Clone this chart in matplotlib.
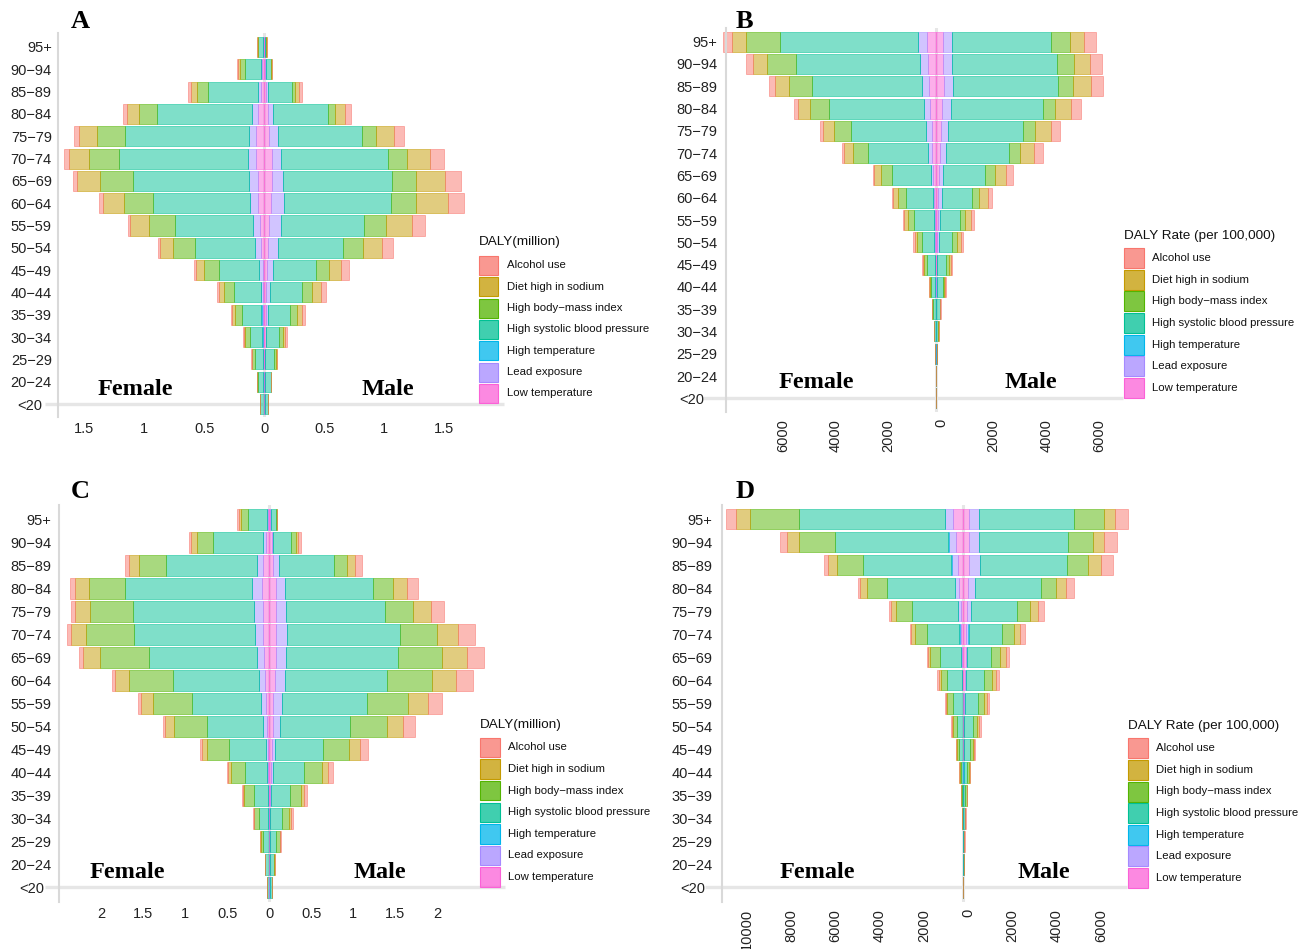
import matplotlib
matplotlib.use("Agg")
import matplotlib.pyplot as plt
import numpy as np
from matplotlib.patches import Rectangle
from matplotlib.colors import to_rgba
from matplotlib.transforms import ScaledTranslation, blended_transform_factory

plt.rcParams['font.family'] = ['Liberation Sans', 'DejaVu Sans']

# ---------------- data ----------------
ages = ["95+", "90\u221294", "85\u221289", "80\u221284", "75\u221279", "70\u221274", "65\u221269",
        "60\u221264", "55\u221259", "50\u221254", "45\u221249", "40\u221244", "35\u221239",
        "30\u221234", "25\u221229", "20\u221224", "<20"]

factors = ["Alcohol use", "Diet high in sodium", "High body\u2212mass index",
           "High systolic blood pressure", "High temperature", "Lead exposure",
           "Low temperature"]
factor_colors = ["#F8766D", "#C49A00", "#53B400", "#00C094", "#00B6EB", "#A58AFF", "#FB61D7"]

# Panel A: DALY (million), order of ages as listed above
a_female_alcohol = [0.005, 0.011, 0.022, 0.031, 0.039, 0.039, 0.036, 0.033, 0.019, 0.014, 0.014, 0.014, 0.011, 0.008, 0.004, 0.002, 0.0005]
a_female_sodium  = [0.004, 0.014, 0.053, 0.103, 0.153, 0.169, 0.186, 0.169, 0.153, 0.108, 0.067, 0.042, 0.022, 0.011, 0.006, 0.002, 0.0005]
a_female_bmi     = [0.005, 0.042, 0.086, 0.153, 0.236, 0.250, 0.275, 0.247, 0.217, 0.186, 0.128, 0.083, 0.058, 0.039, 0.022, 0.004, 0.001]
a_female_sbp     = [0.042, 0.133, 0.419, 0.786, 1.028, 1.069, 0.967, 0.806, 0.647, 0.497, 0.328, 0.222, 0.161, 0.103, 0.067, 0.045, 0.028]
a_female_htemp   = [0.001, 0.001, 0.001, 0.001, 0.001, 0.001, 0.001, 0.001, 0.001, 0.001, 0.001, 0.001, 0.002, 0.002, 0.002, 0.002, 0.002]
a_female_lead    = [0.003, 0.011, 0.025, 0.047, 0.061, 0.069, 0.072, 0.069, 0.058, 0.050, 0.033, 0.019, 0.011, 0.006, 0.003, 0.002, 0.001]
a_female_low     = [0.004, 0.017, 0.028, 0.056, 0.069, 0.069, 0.056, 0.050, 0.039, 0.028, 0.014, 0.011, 0.011, 0.008, 0.006, 0.004, 0.003]

a_male_alcohol = [0.001, 0.004, 0.022, 0.047, 0.086, 0.117, 0.131, 0.133, 0.108, 0.086, 0.061, 0.042, 0.028, 0.019, 0.008, 0.001, 0.0005]
a_male_sodium  = [0.001, 0.005, 0.036, 0.083, 0.147, 0.197, 0.244, 0.264, 0.217, 0.164, 0.103, 0.069, 0.039, 0.014, 0.008, 0.001, 0.0005]
a_male_bmi     = [0.002, 0.006, 0.028, 0.061, 0.119, 0.158, 0.197, 0.211, 0.181, 0.161, 0.111, 0.089, 0.061, 0.036, 0.017, 0.002, 0.001]
a_male_sbp     = [0.010, 0.036, 0.194, 0.453, 0.694, 0.889, 0.908, 0.886, 0.694, 0.544, 0.353, 0.264, 0.181, 0.103, 0.067, 0.050, 0.025]
a_male_htemp   = [0.0005, 0.001, 0.001, 0.001, 0.001, 0.001, 0.001, 0.001, 0.001, 0.001, 0.001, 0.001, 0.002, 0.002, 0.002, 0.002, 0.002]
a_male_lead    = [0.002, 0.005, 0.019, 0.047, 0.075, 0.078, 0.097, 0.114, 0.097, 0.081, 0.056, 0.036, 0.017, 0.003, 0.002, 0.001, 0.001]
a_male_low     = [0.003, 0.010, 0.014, 0.028, 0.042, 0.061, 0.061, 0.053, 0.042, 0.033, 0.019, 0.011, 0.011, 0.011, 0.006, 0.003, 0.003]

# Panel B: DALY rate (per 100,000)
b_female_alcohol = [340, 252, 201, 138, 113, 63, 38, 38, 38, 50, 25, 13, 5, 3, 1, 0.2, 1]
b_female_sodium  = [528, 541, 541, 453, 403, 352, 289, 201, 151, 101, 50, 25, 8, 5, 1, 0.3, 1]
b_female_bmi     = [1296, 1107, 881, 742, 667, 553, 403, 289, 226, 164, 113, 38, 13, 6, 1, 1, 1]
b_female_sbp     = [5245, 4704, 4176, 3597, 2843, 2302, 1484, 1019, 730, 478, 302, 175, 110, 65, 17, 4, 3]
b_female_htemp   = [10, 8, 8, 6, 5, 4, 3, 3, 3, 3, 3, 3, 3, 3, 15, 3, 2]
b_female_lead    = [314, 289, 252, 214, 214, 151, 88, 50, 38, 25, 15, 10, 5, 2, 1, 0.5, 3]
b_female_low     = [352, 314, 277, 239, 164, 138, 101, 75, 50, 38, 20, 12, 6, 4, 2, 1, 2]

b_male_alcohol = [440, 440, 453, 403, 352, 314, 239, 176, 113, 63, 50, 15, 8, 4, 1, 0.2, 1]
b_male_sodium  = [528, 604, 654, 604, 591, 528, 428, 340, 239, 176, 75, 25, 10, 6, 1, 0.3, 1]
b_male_bmi     = [730, 667, 591, 465, 465, 428, 365, 264, 201, 164, 101, 40, 15, 6, 2, 1, 1]
b_male_sbp     = [3774, 3962, 3975, 3472, 2830, 2403, 1597, 1145, 755, 503, 327, 250, 125, 75, 23, 4, 3]
b_male_htemp   = [10, 8, 8, 6, 5, 4, 3, 3, 3, 3, 3, 3, 3, 3, 20, 3, 2]
b_male_lead    = [340, 340, 365, 340, 277, 226, 164, 138, 88, 63, 25, 15, 6, 2, 1, 0.5, 3]
b_male_low     = [252, 277, 289, 239, 189, 151, 113, 75, 63, 50, 25, 15, 8, 4, 2, 1, 2]

# Panel C: DALY (million)
c_female_alcohol = [0.016, 0.028, 0.048, 0.056, 0.048, 0.056, 0.048, 0.040, 0.036, 0.024, 0.020, 0.016, 0.008, 0.004, 0.002, 0.0, 0.0]
c_female_sodium  = [0.028, 0.067, 0.115, 0.171, 0.175, 0.175, 0.194, 0.159, 0.139, 0.107, 0.063, 0.032, 0.016, 0.008, 0.002, 0.001, 0.0]
c_female_bmi     = [0.079, 0.190, 0.325, 0.425, 0.512, 0.567, 0.587, 0.520, 0.460, 0.393, 0.266, 0.167, 0.111, 0.063, 0.028, 0.004, 0.001]
c_female_sbp     = [0.230, 0.595, 1.079, 1.512, 1.444, 1.444, 1.282, 1.024, 0.825, 0.667, 0.433, 0.262, 0.175, 0.107, 0.067, 0.040, 0.022]
c_female_htemp   = [0.001, 0.001, 0.001, 0.001, 0.001, 0.001, 0.001, 0.001, 0.001, 0.001, 0.001, 0.001, 0.001, 0.002, 0.003, 0.003, 0.002]
c_female_lead    = [0.008, 0.036, 0.075, 0.123, 0.107, 0.099, 0.091, 0.075, 0.063, 0.044, 0.024, 0.008, 0.004, 0.002, 0.001, 0.001, 0.001]
c_female_low     = [0.020, 0.040, 0.071, 0.083, 0.071, 0.071, 0.060, 0.052, 0.036, 0.028, 0.020, 0.016, 0.008, 0.006, 0.004, 0.003, 0.002]

c_male_alcohol = [0.004, 0.028, 0.083, 0.131, 0.159, 0.198, 0.210, 0.194, 0.167, 0.143, 0.099, 0.060, 0.036, 0.020, 0.008, 0.001, 0.0]
c_male_sodium  = [0.004, 0.032, 0.095, 0.163, 0.218, 0.258, 0.298, 0.286, 0.238, 0.190, 0.131, 0.067, 0.032, 0.020, 0.004, 0.001, 0.0]
c_male_bmi     = [0.008, 0.056, 0.155, 0.234, 0.329, 0.437, 0.516, 0.536, 0.488, 0.440, 0.302, 0.218, 0.135, 0.083, 0.040, 0.006, 0.001]
c_male_sbp     = [0.063, 0.214, 0.647, 1.052, 1.183, 1.349, 1.337, 1.214, 1.004, 0.829, 0.571, 0.365, 0.226, 0.147, 0.075, 0.048, 0.022]
c_male_htemp   = [0.001, 0.001, 0.001, 0.001, 0.001, 0.001, 0.001, 0.001, 0.001, 0.001, 0.001, 0.001, 0.001, 0.002, 0.003, 0.003, 0.002]
c_male_lead    = [0.004, 0.016, 0.071, 0.111, 0.119, 0.127, 0.123, 0.123, 0.107, 0.079, 0.044, 0.024, 0.004, 0.002, 0.001, 0.001, 0.001]
c_male_low     = [0.012, 0.028, 0.048, 0.075, 0.075, 0.079, 0.075, 0.067, 0.048, 0.048, 0.028, 0.020, 0.012, 0.006, 0.004, 0.003, 0.002]

# Panel D: DALY rate (per 100,000)
d_female_alcohol = [452, 317, 181, 90, 75, 60, 60, 60, 30, 30, 10, 5, 3, 2, 1, 0.7, 0]
d_female_sodium  = [633, 513, 422, 347, 241, 151, 90, 90, 45, 30, 15, 8, 4, 3, 1.5, 1, 0]
d_female_bmi     = [2232, 1644, 1191, 875, 724, 573, 437, 302, 271, 181, 106, 55, 35, 18, 8, 3, 0]
d_female_sbp     = [6590, 5127, 3981, 3091, 2051, 1448, 980, 663, 452, 270, 181, 100, 55, 30, 15, 6, 1]
d_female_htemp   = [15, 10, 8, 6, 5, 15, 5, 5, 3, 3, 3, 3, 3, 3, 2, 2, 1]
d_female_lead    = [377, 317, 271, 196, 151, 75, 30, 15, 10, 10, 5, 3, 1, 1, 0.5, 0.3, 2]
d_female_low     = [452, 347, 256, 181, 106, 90, 60, 45, 20, 20, 10, 5, 3, 2, 1, 1, 1]

d_male_alcohol = [588, 558, 513, 347, 271, 241, 166, 136, 90, 75, 40, 30, 15, 8, 5.5, 3.7, 0]
d_male_sodium  = [498, 498, 603, 452, 362, 271, 241, 196, 136, 106, 45, 24, 12, 6, 3, 3, 0]
d_male_bmi     = [1342, 1146, 935, 679, 588, 528, 407, 347, 271, 166, 136, 80, 55, 30, 17, 7, 0]
d_male_sbp     = [4328, 4026, 3936, 2971, 2051, 1508, 1086, 829, 603, 422, 271, 170, 90, 55, 30, 12, 1]
d_male_htemp   = [10, 10, 8, 6, 5, 45, 5, 5, 3, 3, 3, 3, 3, 3, 2, 2, 1]
d_male_lead    = [422, 437, 498, 317, 211, 90, 75, 45, 15, 10, 5, 3, 1, 1, 0.5, 0.3, 2]
d_male_low     = [271, 271, 271, 226, 151, 106, 106, 60, 45, 20, 10, 5, 3, 2, 1, 1, 1]

a_ticks = [-1.5, -1, -0.5, 0, 0.5, 1, 1.5]
a_ticklabels = ["1.5", "1", "0.5", "0", "0.5", "1", "1.5"]
b_ticks = [-6000, -4000, -2000, 0, 2000, 4000, 6000]
b_ticklabels = ["6000", "4000", "2000", "0", "2000", "4000", "6000"]
c_ticks = [-2, -1.5, -1, -0.5, 0, 0.5, 1, 1.5, 2]
c_ticklabels = ["2", "1.5", "1", "0.5", "0", "0.5", "1", "1.5", "2"]
d_ticks = [-10000, -8000, -6000, -4000, -2000, 0, 2000, 4000, 6000]
d_ticklabels = ["10000", "8000", "6000", "4000", "2000", "0", "2000", "4000", "6000"]

# ---------------- figure ----------------
W, H = 1308, 949
fig = plt.figure(figsize=(W / 100, H / 100), dpi=100)

def fx(x):
    return x / W

def fy(y):
    return 1 - y / H

def px_offset(dx, dy=0):
    return ScaledTranslation(dx / 100, -dy / 100, fig.dpi_scale_trans)

panels = [
    dict(letter="A", female=[a_female_alcohol, a_female_sodium, a_female_bmi, a_female_sbp, a_female_htemp, a_female_lead, a_female_low],
         male=[a_male_alcohol, a_male_sodium, a_male_bmi, a_male_sbp, a_male_htemp, a_male_lead, a_male_low],
         ticks=a_ticks, ticklabels=a_ticklabels, rot=False,
         box=(58, 504, 33.3, 416.7), center=264.3, scale=120.0,
         rows=(47.0, 404.0), ypad=6.0, lt20_dx=-10, hline_start=45, xpad=4.0,
         letter_xy=(80, 28.5), female_xy=(135.5, 395), male_xy=(387.5, 395),
         legend_title="DALY(million)", leg=(479.3, 242.5, 265.5, 21.33, 19, 506.7)),
    dict(letter="B", female=[b_female_alcohol, b_female_sodium, b_female_bmi, b_female_sbp, b_female_htemp, b_female_lead, b_female_low],
         male=[b_male_alcohol, b_male_sodium, b_male_bmi, b_male_sbp, b_male_htemp, b_male_lead, b_male_low],
         ticks=b_ticks, ticklabels=b_ticklabels, rot=True,
         box=(725.7, 1123, 28.3, 411.7), center=936.0, scale=0.0263,
         rows=(41.7, 398.3), ypad=8.0, lt20_dx=-13, hline_start=703, xpad=5.0,
         letter_xy=(744, 28.5), female_xy=(816, 388.5), male_xy=(1031, 388.5),
         legend_title="DALY Rate (per 100,000)", leg=(1123.5, 236.0, 258.3, 21.57, 20, 1151.7)),
    dict(letter="C", female=[c_female_alcohol, c_female_sodium, c_female_bmi, c_female_sbp, c_female_htemp, c_female_lead, c_female_low],
         male=[c_male_alcohol, c_male_sodium, c_male_bmi, c_male_sbp, c_male_htemp, c_male_lead, c_male_low],
         ticks=c_ticks, ticklabels=c_ticklabels, rot=False,
         box=(59.3, 505, 505, 901.7), center=269.3, scale=84.0,
         rows=(519.3, 887.3), ypad=7.7, lt20_dx=-7, hline_start=45, xpad=4.0,
         letter_xy=(80, 498.5), female_xy=(127, 878.5), male_xy=(379.5, 878.5),
         legend_title="DALY(million)", leg=(480, 725.0, 747.5, 21.6, 19.5, 507.7)),
    dict(letter="D", female=[d_female_alcohol, d_female_sodium, d_female_bmi, d_female_sbp, d_female_htemp, d_female_lead, d_female_low],
         male=[d_male_alcohol, d_male_sodium, d_male_bmi, d_male_sbp, d_male_htemp, d_male_lead, d_male_low],
         ticks=d_ticks, ticklabels=d_ticklabels, rot=True,
         box=(721.7, 1127, 505, 902), center=963.3, scale=0.0221,
         rows=(519.0, 887.3), ypad=8.8, lt20_dx=-7, hline_start=705, xpad=5.0,
         letter_xy=(745, 498.5), female_xy=(817, 878.5), male_xy=(1044, 878.5),
         legend_title="DALY Rate (per 100,000)", leg=(1127.7, 726.0, 748.3, 21.6, 20, 1155.7)),
]

n = len(ages)
ypos = np.arange(n)[::-1]  # 95+ at top
GRID = "#E6E6E6"

for p in panels:
    x0, x1, y0, y1 = p["box"]
    ax = fig.add_axes([fx(x0), fy(y1), (x1 - x0) / W, (y1 - y0) / H])
    c, s = p["center"], p["scale"]
    ax.set_xlim((x0 - c) / s, (x1 - c) / s)
    r_top, r_bot = p["rows"]
    sp = (r_bot - r_top) / (n - 1)
    ax.set_ylim(-(y1 - r_bot) / sp, (n - 1) + (r_top - y0) / sp)

    # background guide lines
    ax.axvline(0, color=GRID, lw=2.2, zorder=0)
    tr = blended_transform_factory(ax.transAxes, ax.transData)
    ax.plot([(p["hline_start"] - x0) / (x1 - x0), 1.0], [0, 0], transform=tr,
            color=GRID, lw=2.4, zorder=0, clip_on=False, solid_capstyle="butt")

    # stacked bars: Low temperature nearest the centre, Alcohol use outermost
    for sign, series in ((-1, p["female"]), (1, p["male"])):
        cum = np.zeros(n)
        for k in range(len(factors) - 1, -1, -1):
            vals = np.asarray(series[k], dtype=float)
            col = factor_colors[k]
            ax.barh(ypos, sign * vals, left=sign * cum, height=0.9,
                    color=to_rgba(col, 0.5), edgecolor=to_rgba(col, 0.8), linewidth=0.45,
                    zorder=2, clip_on=False)
            cum = cum + vals

    for side in ("top", "right", "bottom"):
        ax.spines[side].set_visible(False)
    ax.spines["left"].set_color("#D9D9D9")
    ax.spines["left"].set_linewidth(1.5)

    ax.set_yticks(ypos)
    ax.set_yticklabels(ages)
    ax.tick_params(axis="y", length=0, pad=p["ypad"] * 0.75, labelsize=10.5, labelcolor="#222222")
    lbls = ax.get_yticklabels()
    lbls[-1].set_transform(lbls[-1].get_transform() + px_offset(p["lt20_dx"]))

    ax.set_xticks(p["ticks"])
    ax.set_xticklabels(p["ticklabels"])
    if p["rot"]:
        ax.tick_params(axis="x", length=0, pad=p["xpad"], labelsize=10.5,
                       labelcolor="#222222", labelrotation=90)
        for t in ax.get_xticklabels():
            t.set_transform(t.get_transform() + px_offset(5))
    else:
        ax.tick_params(axis="x", length=0, pad=p["xpad"], labelsize=10.5, labelcolor="#222222")

    # panel letter and sex labels
    serif = dict(family=["Liberation Serif", "DejaVu Serif"], weight="bold")
    fig.text(fx(p["letter_xy"][0]), fy(p["letter_xy"][1]), p["letter"], ha="center",
             va="baseline", fontsize=19, **serif)
    fig.text(fx(p["female_xy"][0]), fy(p["female_xy"][1]), "Female", ha="center",
             va="baseline", fontsize=17.5, **serif)
    fig.text(fx(p["male_xy"][0]), fy(p["male_xy"][1]), "Male", ha="center",
             va="baseline", fontsize=17.5, **serif)

    # legend
    lx, ty, ky0, pitch, ksz, tx = p["leg"]
    fig.text(fx(lx), fy(ty), p["legend_title"], ha="left", va="center",
             fontsize=9.7, color="#111111")
    for i, (name, col) in enumerate(zip(factors, factor_colors)):
        yc = ky0 + i * pitch
        rect = Rectangle((fx(lx), fy(yc + ksz / 2)), ksz / W, ksz / H,
                         transform=fig.transFigure, facecolor=to_rgba(col, 0.75),
                         edgecolor=col, linewidth=0.8, zorder=5)
        fig.add_artist(rect)
        fig.text(fx(tx), fy(yc), name, ha="left", va="center", fontsize=8.2,
                 color="#111111", zorder=5)

fig.savefig("out.png", dpi=100, facecolor="white")
